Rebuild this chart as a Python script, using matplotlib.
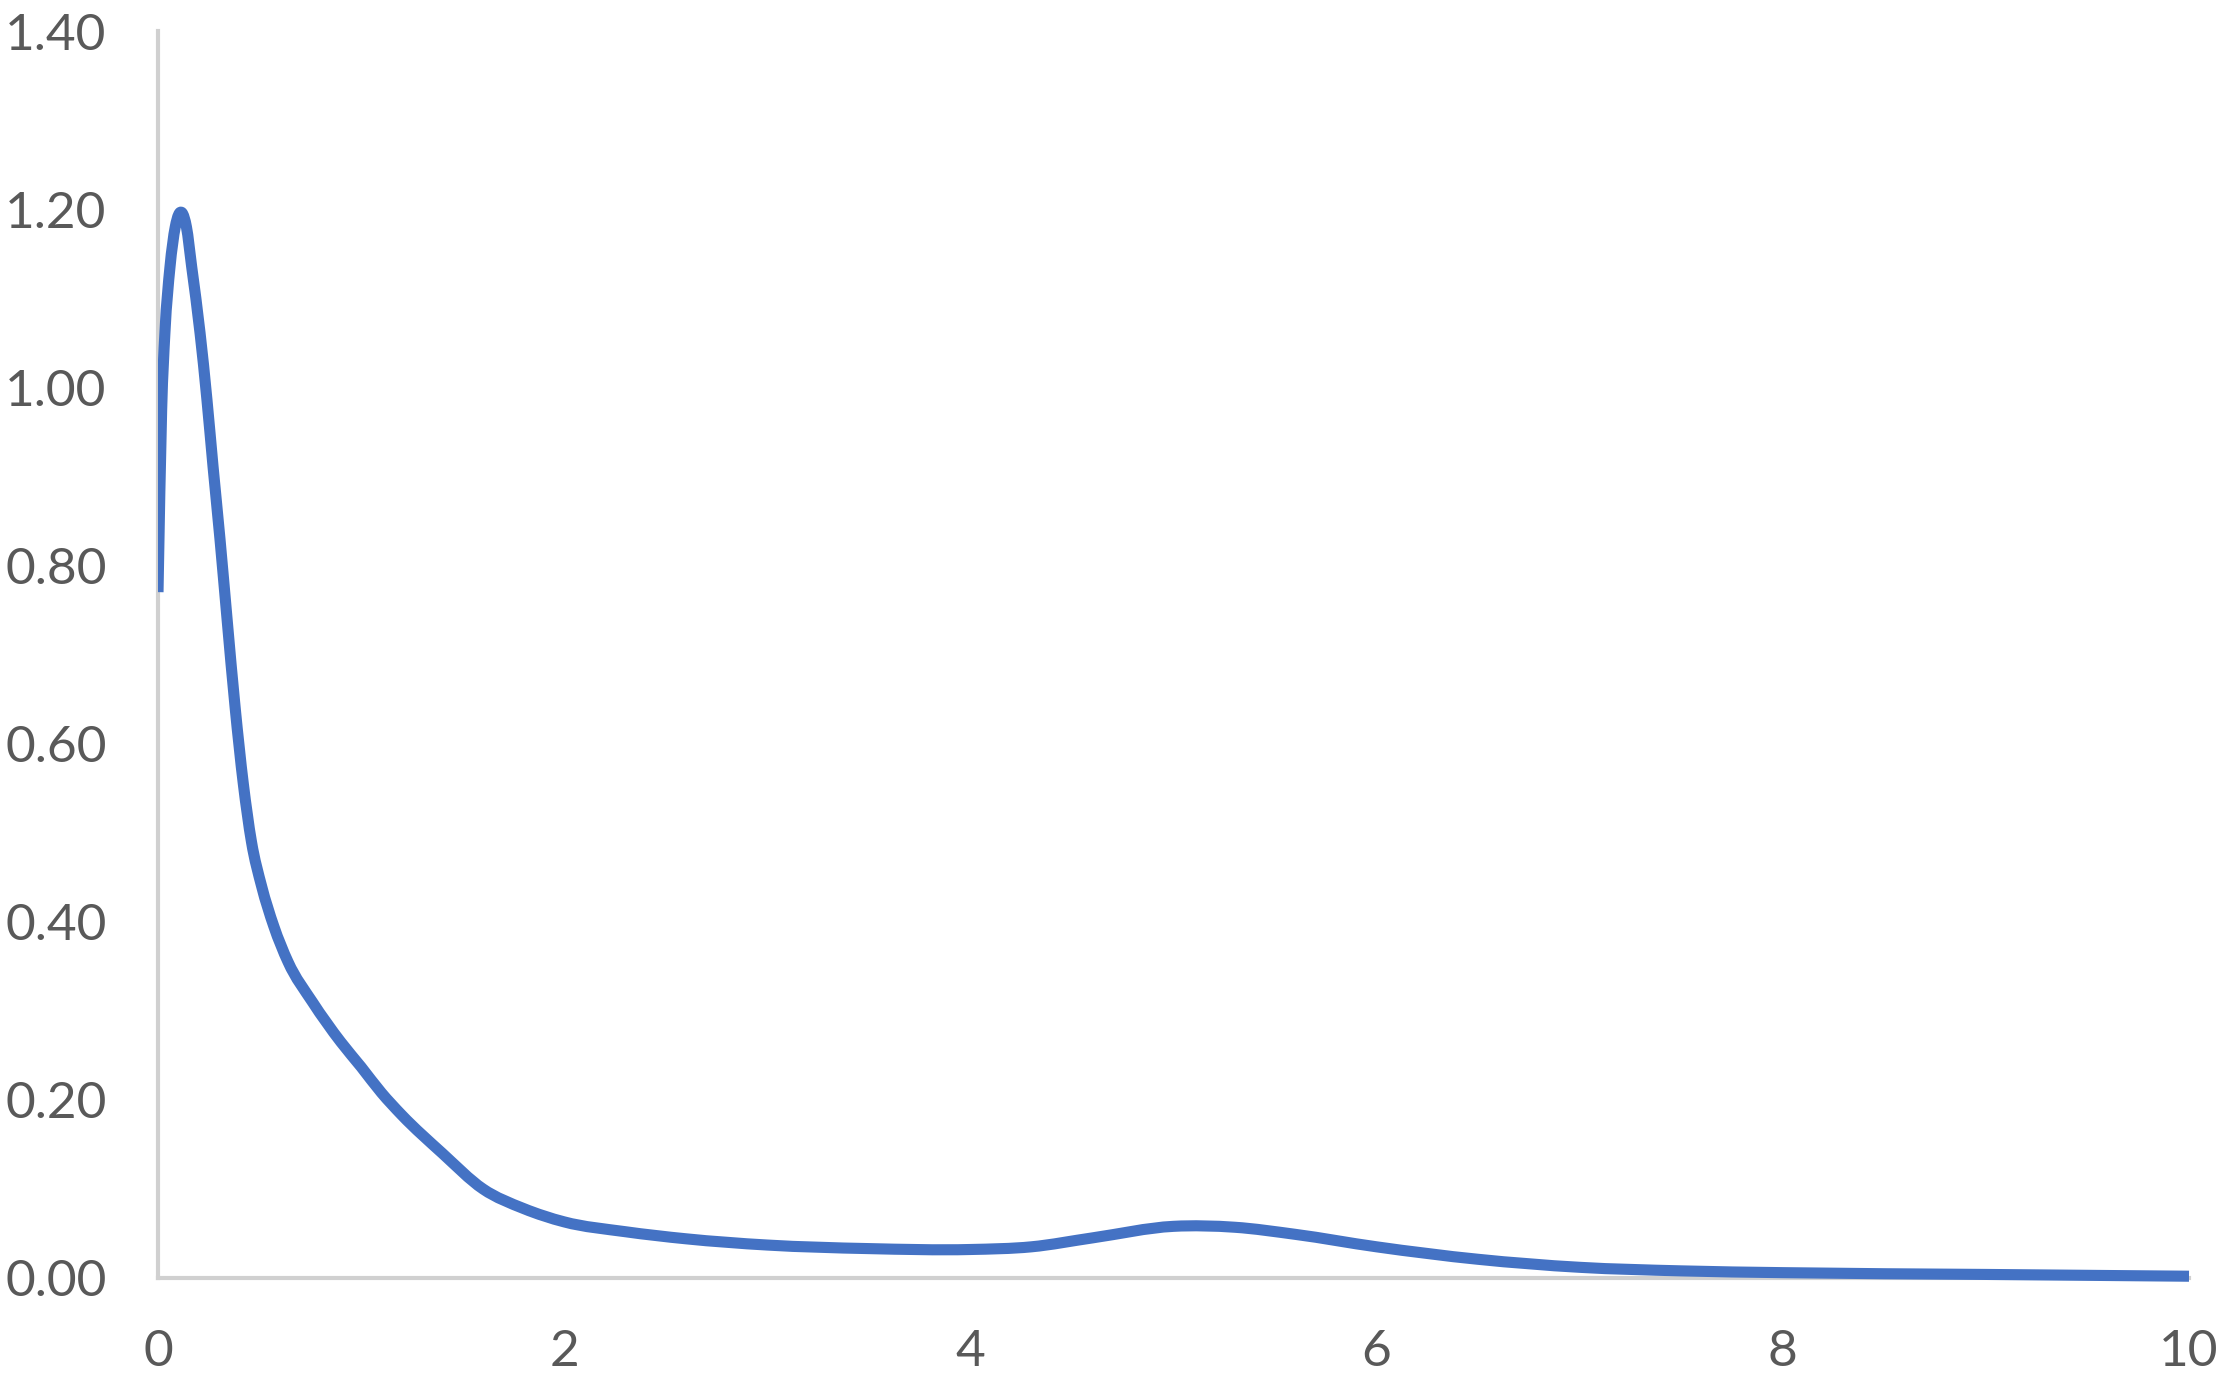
import matplotlib
matplotlib.use("Agg")
import matplotlib.pyplot as plt
from matplotlib.path import Path
from matplotlib.patches import PathPatch, Rectangle

x_vals = [0.0, 0.018, 0.034, 0.059, 0.085, 0.118, 0.14, 0.166, 0.207, 0.241, 0.271,
          0.305, 0.34, 0.38, 0.42, 0.46, 0.51, 0.57, 0.64, 0.76, 0.9, 1.0, 1.1, 1.2, 1.4,
          1.6, 1.8, 2.0, 2.3, 2.6, 3.0, 3.5, 4.0, 4.3, 4.6, 5.0, 5.3, 5.6, 6.0, 6.5, 7.0,
          7.5, 8.0, 9.0, 10.0]
y_vals = [0.77, 0.975, 1.061, 1.135, 1.18, 1.196, 1.18, 1.135, 1.061, 0.986, 0.911,
          0.83, 0.74, 0.64, 0.555, 0.49, 0.44, 0.395, 0.355, 0.31, 0.265, 0.237, 0.208,
          0.183, 0.14, 0.10, 0.078, 0.063, 0.052, 0.044, 0.037, 0.033, 0.032, 0.035, 0.045,
          0.058, 0.057, 0.049, 0.035, 0.021, 0.012, 0.008, 0.006, 0.004, 0.002]

x_ticks = [0, 2, 4, 6, 8, 10]
y_ticks = [0.0, 0.2, 0.4, 0.6, 0.8, 1.0, 1.2, 1.4]

W, H = 2217, 1391
fig = plt.figure(figsize=(W / 100, H / 100), dpi=100)
ax = fig.add_axes([158 / W, 1 - 1278 / H, (2189 - 158) / W, (1278 - 31) / H])


def smooth_path(xs, ys):
    """Smoothed line: cubic Hermite (Bezier) segments through the data points."""
    n = len(xs)
    slopes = []
    for i in range(n):
        if i == 0:
            m = (ys[1] - ys[0]) / (xs[1] - xs[0])
        elif i == n - 1:
            m = (ys[-1] - ys[-2]) / (xs[-1] - xs[-2])
        else:
            h0 = xs[i] - xs[i - 1]
            h1 = xs[i + 1] - xs[i]
            d0 = (ys[i] - ys[i - 1]) / h0
            d1 = (ys[i + 1] - ys[i]) / h1
            m = (d0 * h1 + d1 * h0) / (h0 + h1)
        slopes.append(m)
    verts = [(xs[0], ys[0])]
    codes = [Path.MOVETO]
    for i in range(n - 1):
        h = xs[i + 1] - xs[i]
        c1 = (xs[i] + h / 3, ys[i] + slopes[i] * h / 3)
        c2 = (xs[i + 1] - h / 3, ys[i + 1] - slopes[i + 1] * h / 3)
        verts += [c1, c2, (xs[i + 1], ys[i + 1])]
        codes += [Path.CURVE4] * 3
    return Path(verts, codes)


patch = PathPatch(smooth_path(x_vals, y_vals), facecolor="none", edgecolor="#4472C4",
                  linewidth=8, capstyle="butt", joinstyle="round")
ax.add_patch(patch)
clip = Rectangle((0, -0.1), 1.1, 1.2, transform=ax.transAxes, visible=False)
ax.add_artist(clip)
patch.set_clip_path(clip)

ax.set_xlim(0, 10)
ax.set_ylim(0, 1.4)
ax.set_xticks(x_ticks)
ax.set_yticks(y_ticks)
ax.set_xticklabels([str(t) for t in x_ticks])
ax.set_yticklabels([f"{t:.2f}" for t in y_ticks])

for s in ["top", "right"]:
    ax.spines[s].set_visible(False)
for s in ["left", "bottom"]:
    ax.spines[s].set_color("#D0D0D0")
    ax.spines[s].set_linewidth(3)
    ax.spines[s].set_zorder(0.5)
ax.tick_params(axis="both", length=0, labelsize=37, labelcolor="#595959")
ax.tick_params(axis="y", pad=37)
ax.tick_params(axis="x", pad=37)
for lab in ax.get_xticklabels() + ax.get_yticklabels():
    lab.set_fontfamily("Lato")

fig.savefig("out.png", dpi=100, facecolor="white")
